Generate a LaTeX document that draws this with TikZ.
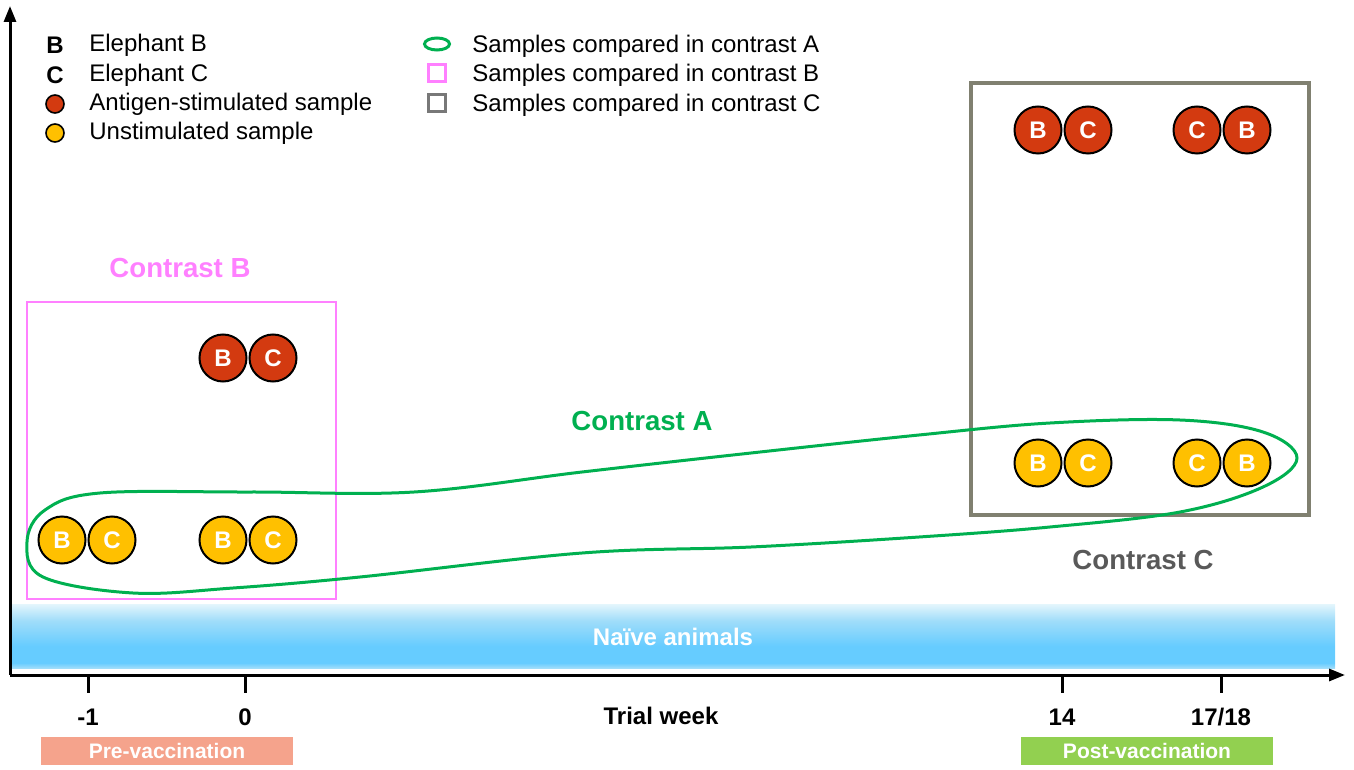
\documentclass[tikz,border=0pt]{standalone}
\usepackage{fontspec}
\setmainfont{Liberation Sans}
\usepackage{xcolor}
\usetikzlibrary{shapes.geometric}
\usetikzlibrary{arrows.meta}

\definecolor{stimred}{RGB}{211,58,16}
\definecolor{unstimyellow}{RGB}{255,192,0}
\definecolor{contrastgreen}{RGB}{0,176,80}
\definecolor{contrastpink}{RGB}{255,128,255}
\definecolor{contrastgray}{RGB}{128,128,112}
\definecolor{graytext}{RGB}{89,89,89}
\definecolor{legendgray}{RGB}{120,120,120}
\definecolor{presalmon}{RGB}{245,163,140}
\definecolor{postgreen}{RGB}{146,208,80}
\definecolor{naivetop}{RGB}{228,246,252}
\definecolor{naivemid}{RGB}{160,221,250}
\definecolor{naivebot}{RGB}{102,204,255}
\pgfdeclareverticalshading{naive}{100bp}{color(0bp)=(naivemid); color(25bp)=(naivemid);
  color(29bp)=(naivebot); color(42bp)=(naivebot); color(62bp)=(naivemid);
  color(75bp)=(naivetop); color(100bp)=(naivetop)}

\begin{document}
\begin{tikzpicture}[x=0.5pt,y=-0.5pt,
  every node/.style={font=\fontsize{12}{14}\selectfont},
  sample/.style={circle,draw=black,line width=1pt,minimum size=23.5pt,inner sep=0pt,
    text=white,font=\fontsize{12}{14}\selectfont\bfseries},
  stim/.style={sample,fill=stimred},
  unstim/.style={sample,fill=unstimyellow},
  legtext/.style={anchor=west,inner sep=0pt},
  legdot/.style={circle,draw=black,line width=0.8pt,minimum size=9pt,inner sep=0pt},
  legbox/.style={line width=1.6pt,minimum size=8.5pt,inner sep=0pt},
  phase/.style={minimum width=126pt,minimum height=14pt,inner sep=0pt,text=white,
    font=\fontsize{10.5}{12}\selectfont\bfseries},
  ticklab/.style={font=\fontsize{12}{14}\selectfont\bfseries},
  contrastlab/.style={font=\fontsize{13.8}{16}\selectfont\bfseries},
  axis/.style={line width=1.5pt,-{Triangle[length=8pt,width=6pt]}},
]
\useasboundingbox (0,0) rectangle (1354,770);

% legend
\node[font=\fontsize{12}{14}\selectfont\bfseries] (legB) at (55,45) {B};
\node[font=\fontsize{12}{14}\selectfont\bfseries] (legC) at (55,75) {C};
\node[legdot,fill=stimred] (legstim) at (55,104) {};
\node[legdot,fill=unstimyellow] (legunstim) at (55,133) {};
\node[legtext] at (89,45) {Elephant B};
\node[legtext] at (89,75) {Elephant C};
\node[legtext] at (89,104) {Antigen-stimulated sample};
\node[legtext] at (89,133) {Unstimulated sample};
\node[ellipse,draw=contrastgreen,line width=1.5pt,minimum width=12.5pt,minimum height=6pt,inner sep=0pt] (legA) at (437,44) {};
\node[legbox,draw=contrastpink] (legpink) at (437,73) {};
\node[legbox,draw=legendgray] (leggray) at (437,103) {};
\node[legtext] at (472,46) {Samples compared in contrast A};
\node[legtext] at (472,75) {Samples compared in contrast B};
\node[legtext] at (472,105) {Samples compared in contrast C};

% naive band
\shade[shading=naive] (10,604) rectangle (1335,668);
\node[ticklab,text=white] (naive) at (673,637) {Naïve animals};

% axes
\coordinate (o) at (10,675);
\coordinate (ytop) at (10,6);
\coordinate (xend) at (1345,675);
\draw[axis] (o) -- (ytop);
\draw[axis] (o) -- (xend);
\draw[line width=1.5pt] (88,675) -- (88,693);
\draw[line width=1.5pt] (245,675) -- (245,693);
\draw[line width=1.5pt] (1062,675) -- (1062,693);
\draw[line width=1.5pt] (1221,675) -- (1221,693);
\node[ticklab] (wm1) at (88,717) {-1};
\node[ticklab] (w0) at (245,717) {0};
\node[ticklab] (w14) at (1062,717) {14};
\node[ticklab] (w17) at (1221,717) {17/18};
\node[ticklab] (trial) at (661,716) {Trial week};
\node[phase,fill=presalmon] (pre) at (167,751) {Pre-vaccination};
\node[phase,fill=postgreen] (post) at (1147,751) {Post-vaccination};

% contrast boxes
\draw[contrastpink,line width=1.3pt] (27,302) rectangle (336,599);
\node[contrastlab,text=contrastpink] (labB) at (180,268) {Contrast B};
\draw[contrastgray,line width=1.6pt] (971,83) rectangle (1309,515);
\node[contrastlab,text=graytext] (labC) at (1143,560) {Contrast C};
\node[contrastlab,text=contrastgreen] (labA) at (642,421) {Contrast A};
\draw[contrastgreen,line width=1.5pt] plot[smooth cycle,tension=0.6] coordinates {
  (27,542) (45,510) (100,493) (250,492) (414,492) (582,472) (751,453) (919,435)
  (1050,423) (1180,420) (1263,432) (1297,458) (1263,487) (1180,512) (1050,527)
  (919,537) (751,547) (582,553) (360,577) (233,588) (133,593) (43,577)};

% samples
\node[stim] (s0B) at (223,358) {B};
\node[stim] (s0C) at (273,358) {C};
\node[unstim] (um1B) at (62,540) {B};
\node[unstim] (um1C) at (112,540) {C};
\node[unstim] (u0B) at (223,540) {B};
\node[unstim] (u0C) at (273,540) {C};
\node[stim] (s14B) at (1038,130) {B};
\node[stim] (s14C) at (1088,130) {C};
\node[stim] (s17C) at (1197,130) {C};
\node[stim] (s17B) at (1247,130) {B};
\node[unstim] (u14B) at (1038,463) {B};
\node[unstim] (u14C) at (1088,463) {C};
\node[unstim] (u17C) at (1197,463) {C};
\node[unstim] (u17B) at (1247,463) {B};
\end{tikzpicture}
\end{document}
